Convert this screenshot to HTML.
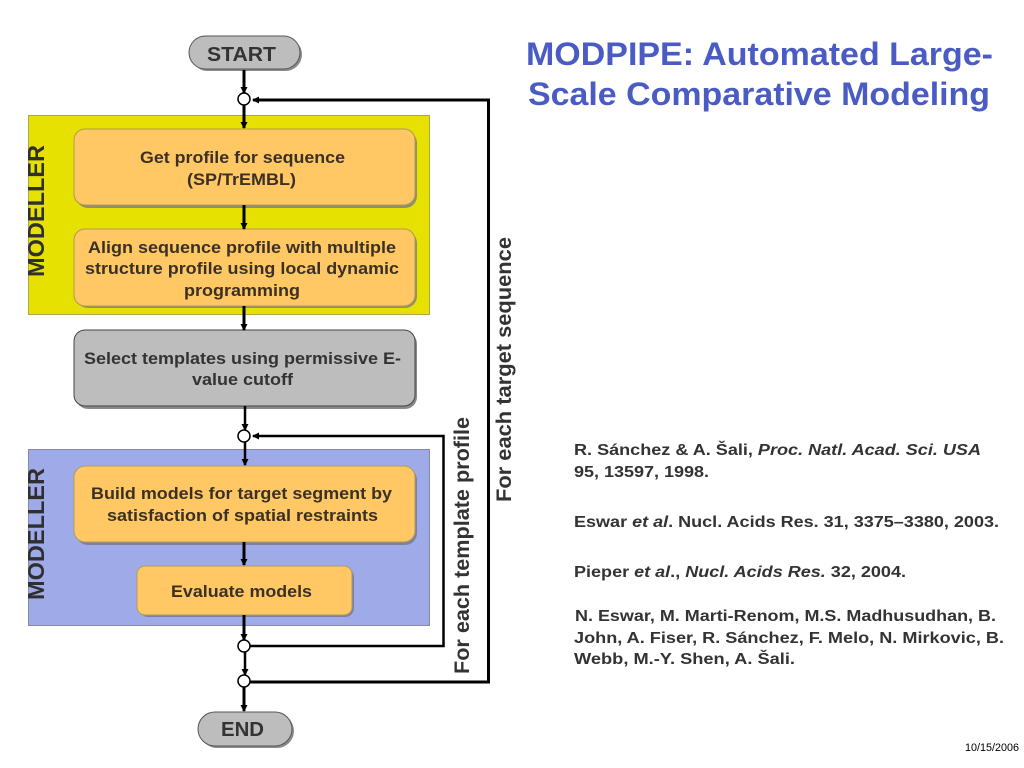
<!DOCTYPE html>
<html><head><meta charset="utf-8"><style>
html,body{margin:0;padding:0;background:#fff}
svg{display:block}
text{font-family:"Liberation Sans",Arial,sans-serif}
.b{font-weight:bold;font-size:17px;fill:#3a3024}
.r{font-size:16px;fill:#333;font-weight:bold}
.v{font-size:23px;fill:#2f2f2f;font-weight:bold}
</style></head><body>
<svg width="1024" height="768" viewBox="0 0 1024 768" xmlns="http://www.w3.org/2000/svg">
<defs>
<marker id="a" markerWidth="8" markerHeight="8" refX="6" refY="3.5" orient="auto" markerUnits="userSpaceOnUse"><path d="M0 0L7 3.5L0 7z" fill="#000"/></marker>
</defs>
<rect width="1024" height="768" fill="#fff"/>
<rect x="28.500" y="115.500" width="401" height="199" fill="#e6e100" stroke="#a8a850"/>
<rect x="28.500" y="449.500" width="401" height="176" fill="#9fabe8" stroke="#8888a8"/>

<g stroke="#555" stroke-width="1">
<rect x="191" y="38" width="111" height="33" rx="16.500" fill="#8a8a8a" stroke="none"/>
<rect x="189" y="36" width="111" height="33" rx="16.500" fill="#bdbdbd"/>
<rect x="200" y="714" width="94" height="34" rx="17" fill="#8a8a8a" stroke="none"/>
<rect x="198" y="712" width="94" height="34" rx="17" fill="#bdbdbd"/>
<rect x="76" y="131" width="341" height="77" rx="12" fill="#8f8f70" stroke="none"/>
<rect x="74" y="129" width="341" height="76" rx="11" fill="#ffc864" stroke="#b09a50"/>
<rect x="76" y="231" width="341" height="77" rx="12" fill="#8f8f70" stroke="none"/>
<rect x="74" y="229" width="341" height="77" rx="11" fill="#ffc864" stroke="#b09a50"/>
<rect x="76" y="332" width="341" height="77" rx="12" fill="#8a8a8a" stroke="none"/>
<rect x="74" y="330" width="341" height="76" rx="11" fill="#bdbdbd" stroke="#444"/>
<rect x="76" y="468" width="341" height="77" rx="12" fill="#7f80a0" stroke="none"/>
<rect x="74" y="466" width="341" height="76" rx="11" fill="#ffc864" stroke="#b09a60"/>
<rect x="139" y="568" width="215" height="49" rx="9" fill="#7f80a0" stroke="none"/>
<rect x="137" y="566" width="215" height="49" rx="8" fill="#ffc864" stroke="#b09a60"/>
</g>

<g fill="none" stroke="#000" stroke-width="3">
<path d="M244 70V93" marker-end="url(#a)"/>
<path d="M244 105V128" marker-end="url(#a)"/>
<path d="M244 205V229" marker-end="url(#a)"/>
<path d="M244 306V330" marker-end="url(#a)"/>
<path d="M245 406V430" stroke-width="2.500" marker-end="url(#a)"/>
<path d="M245 442V465" stroke-width="2.500" marker-end="url(#a)"/>
<path d="M244 542V565" marker-end="url(#a)"/>
<path d="M244 615V640" marker-end="url(#a)"/>
<path d="M245 652V675" stroke-width="2.500" marker-end="url(#a)"/>
<path d="M244 687V711" marker-end="url(#a)"/>
<path d="M250 682H488.500V100H253" marker-end="url(#a)"/>
<path d="M250 646H443.500V436H253" stroke-width="2.500" marker-end="url(#a)"/>
</g>

<g fill="#fff" stroke="#000" stroke-width="1.500">
<circle cx="244" cy="99" r="6"/>
<circle cx="244" cy="436" r="6"/>
<circle cx="244" cy="646" r="6"/>
<circle cx="244" cy="681" r="6"/>
</g>

<g>
<text x="207" y="61" font-size="20" font-weight="bold" fill="#333" textLength="69" lengthAdjust="spacingAndGlyphs">START</text>
<text x="221" y="736" font-size="20" font-weight="bold" fill="#333" textLength="43" lengthAdjust="spacingAndGlyphs">END</text>
<text class="b" x="140" y="163" textLength="205" lengthAdjust="spacingAndGlyphs">Get profile for sequence</text>
<text class="b" x="187" y="185" textLength="109" lengthAdjust="spacingAndGlyphs">(SP/TrEMBL)</text>
<text class="b" x="88" y="253" textLength="308" lengthAdjust="spacingAndGlyphs">Align sequence profile with multiple</text>
<text class="b" x="85" y="274" textLength="314" lengthAdjust="spacingAndGlyphs">structure profile using local dynamic</text>
<text class="b" x="184" y="296" textLength="116" lengthAdjust="spacingAndGlyphs">programming</text>
<text class="b" style="fill:#333" x="84" y="364" textLength="317" lengthAdjust="spacingAndGlyphs">Select templates using permissive E-</text>
<text class="b" style="fill:#333" x="192" y="385" textLength="101" lengthAdjust="spacingAndGlyphs">value cutoff</text>
<text class="b" x="91" y="499" textLength="301" lengthAdjust="spacingAndGlyphs">Build models for target segment by</text>
<text class="b" x="107" y="521" textLength="271" lengthAdjust="spacingAndGlyphs">satisfaction of spatial restraints</text>
<text class="b" x="171" y="597" textLength="141" lengthAdjust="spacingAndGlyphs">Evaluate models</text>

<text class="v" transform="translate(44 277) rotate(-90)" textLength="132" lengthAdjust="spacingAndGlyphs">MODELLER</text>
<text class="v" transform="translate(44 600) rotate(-90)" textLength="132" lengthAdjust="spacingAndGlyphs">MODELLER</text>
<text transform="translate(469 674) rotate(-90)" font-size="21" fill="#333" font-weight="bold" textLength="257" lengthAdjust="spacingAndGlyphs">For each template profile</text>
<text transform="translate(511 502) rotate(-90)" font-size="21" fill="#333" font-weight="bold" textLength="265" lengthAdjust="spacingAndGlyphs">For each target sequence</text>

<text x="526" y="65" font-size="32" font-weight="bold" fill="#4a5cc4" textLength="467" lengthAdjust="spacingAndGlyphs">MODPIPE: Automated Large-</text>
<text x="528" y="105" font-size="32" font-weight="bold" fill="#4a5cc4" textLength="462" lengthAdjust="spacingAndGlyphs">Scale Comparative Modeling</text>

<text class="r" x="574" y="455" textLength="407" lengthAdjust="spacingAndGlyphs">R. Sánchez &amp; A. Šali, <tspan font-style="italic">Proc. Natl. Acad. Sci. USA</tspan></text>
<text class="r" x="574" y="477" textLength="135" lengthAdjust="spacingAndGlyphs">95, 13597, 1998.</text>
<text class="r" x="574" y="527" textLength="425" lengthAdjust="spacingAndGlyphs">Eswar <tspan font-style="italic">et al</tspan>. Nucl. Acids Res. 31, 3375–3380, 2003.</text>
<text class="r" x="574" y="577" textLength="332" lengthAdjust="spacingAndGlyphs">Pieper <tspan font-style="italic">et al</tspan>., <tspan font-style="italic">Nucl. Acids Res.</tspan> 32, 2004.</text>
<text class="r" x="575" y="621" textLength="421" lengthAdjust="spacingAndGlyphs">N. Eswar, M. Marti-Renom, M.S. Madhusudhan, B.</text>
<text class="r" x="574" y="643" textLength="430" lengthAdjust="spacingAndGlyphs">John, A. Fiser, R. Sánchez, F. Melo, N. Mirkovic, B.</text>
<text class="r" x="574" y="664" textLength="221" lengthAdjust="spacingAndGlyphs">Webb, M.-Y. Shen, A. Šali.</text>
<text x="965" y="751" font-size="11" fill="#000" textLength="54" lengthAdjust="spacingAndGlyphs">10/15/2006</text>
</g>
</svg>
</body></html>
